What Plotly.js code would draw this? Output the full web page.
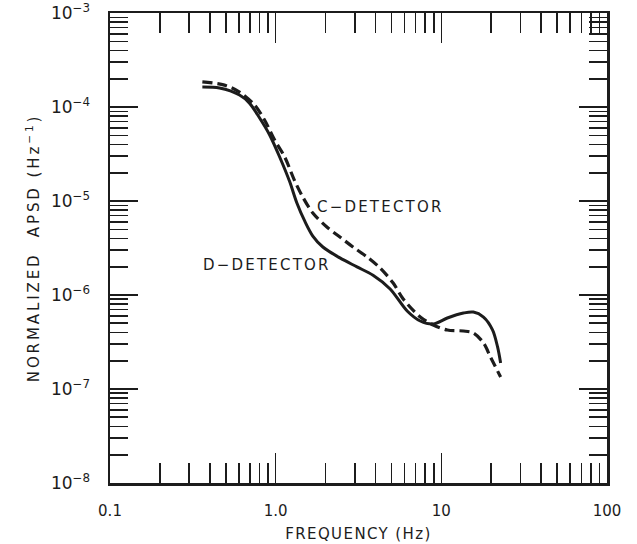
<!DOCTYPE html>
<html>
<head>
<meta charset="utf-8">
<script src="https://cdn.plot.ly/plotly-3.0.1.min.js"></script>
<style>
  html, body { margin: 0; padding: 0; background: #ffffff; }
  #chart { width: 637px; height: 544px; }
  .xtitle { letter-spacing: 1.4px; }
  .ytitle { letter-spacing: 2.9px; }
  .annotation-text { letter-spacing: 2.2px; }
</style>
</head>
<body>
<div id="chart"></div>
<script>
// Frequency (Hz) and normalized APSD (1/Hz)
const freqD = [0.361, 0.458, 0.605, 0.695, 0.800, 0.920, 1.057, 1.216, 1.341, 1.499, 1.676, 1.927, 2.443, 3.097, 3.871, 4.908, 6.22, 7.46, 8.94, 10.87, 13.6, 15.6, 17.97, 20.4, 21.85, 22.8];
const apsdD = [1.63e-4, 1.59e-4, 1.34e-4, 1.10e-4, 7.64e-5, 5.04e-5, 2.94e-5, 1.60e-5, 9.6e-6, 6.1e-6, 4.24e-6, 3.24e-6, 2.48e-6, 1.99e-6, 1.62e-6, 1.16e-6, 6.76e-7, 5.29e-7, 4.91e-7, 5.69e-7, 6.43e-7, 6.59e-7, 5.83e-7, 4.24e-7, 2.80e-7, 1.89e-7];

const freqC = [0.361, 0.491, 0.605, 0.746, 0.857, 0.986, 1.134, 1.304, 1.458, 1.676, 2.038, 2.443, 2.929, 3.561, 4.268, 5.12, 5.886, 7.46, 8.94, 10.87, 13.6, 15.6, 17.97, 19.8, 22.8];
const apsdC = [1.85e-4, 1.71e-4, 1.44e-4, 1.05e-4, 7.27e-5, 4.45e-5, 2.94e-5, 1.63e-5, 1.10e-5, 7.45e-6, 5.29e-6, 4.14e-6, 3.24e-6, 2.54e-6, 1.94e-6, 1.34e-6, 9.07e-7, 5.83e-7, 4.80e-7, 4.24e-7, 4.14e-7, 3.94e-7, 3.09e-7, 2.19e-7, 1.34e-7];

const xTickVals = [0.1, 1, 10, 100];
const xTickText = ['0.1', '1.0', '10', '100'];
const yTickVals = [1e-8, 1e-7, 1e-6, 1e-5, 1e-4, 1e-3];
const yTickText = ['10<sup>\u22128</sup>', '10<sup>\u22127</sup>', '10<sup>\u22126</sup>', '10<sup>\u22125</sup>', '10<sup>\u22124</sup>', '10<sup>\u22123</sup>'];

const ink = '#1c1c1c';
const fontFam = 'DejaVu Sans, Liberation Sans, sans-serif';

const traces = [
  {
    x: freqD, y: apsdD, type: 'scatter', mode: 'lines', name: 'D-DETECTOR',
    line: { color: ink, width: 3, shape: 'spline', smoothing: 0.9 }
  },
  {
    x: freqC, y: apsdC, type: 'scatter', mode: 'lines', name: 'C-DETECTOR',
    line: { color: ink, width: 3.2, dash: '10px,5px', shape: 'spline', smoothing: 0.9 }
  }
];

const layout = {
  width: 637, height: 544,
  margin: { l: 110, r: 30, t: 13, b: 61 },
  paper_bgcolor: '#ffffff', plot_bgcolor: '#ffffff',
  showlegend: false,
  font: { family: fontFam, color: ink, size: 14 },
  xaxis: {
    type: 'log', range: [-1, 2],
    tickmode: 'array', tickvals: xTickVals, ticktext: xTickText,
    ticks: 'inside', ticklen: 30, tickwidth: 1.6, tickcolor: ink,
    minor: { ticks: 'inside', ticklen: 20, tickwidth: 1.6, tickcolor: ink, dtick: 'D1', showgrid: false },
    showline: true, linewidth: 2.5, linecolor: ink, mirror: 'allticks',
    showgrid: false, zeroline: false,
    tickfont: { size: 15, family: fontFam, color: ink },
    ticklabelstandoff: 12,
    title: { text: 'FREQUENCY (Hz)', font: { size: 15, family: fontFam, color: ink }, standoff: 10 }
  },
  yaxis: {
    type: 'log', range: [-8, -3],
    tickmode: 'array', tickvals: yTickVals, ticktext: yTickText,
    ticks: 'inside', ticklen: 28, tickwidth: 1.6, tickcolor: ink,
    minor: { ticks: 'inside', ticklen: 18, tickwidth: 1.6, tickcolor: ink, dtick: 'D1', showgrid: false },
    showline: true, linewidth: 2.5, linecolor: ink, mirror: 'allticks',
    showgrid: false, zeroline: false,
    tickfont: { size: 17, family: fontFam, color: ink },
    ticklabelstandoff: 14,
    title: { text: 'NORMALIZED  APSD (Hz<sup>\u22121</sup>)', font: { size: 15, family: fontFam, color: ink }, standoff: 8 }
  },
  annotations: [
    { x: Math.log10(4.27), y: Math.log10(8.63e-6), xref: 'x', yref: 'y', text: 'C\u2212DETECTOR', showarrow: false,
      xanchor: 'center', yanchor: 'middle', font: { size: 15, family: fontFam, color: ink } },
    { x: Math.log10(0.882), y: Math.log10(2.08e-6), xref: 'x', yref: 'y', text: 'D\u2212DETECTOR', showarrow: false,
      xanchor: 'center', yanchor: 'middle', font: { size: 15, family: fontFam, color: ink } }
  ]
};

Plotly.newPlot('chart', traces, layout, { staticPlot: true, displayModeBar: false });
</script>
</body>
</html>
